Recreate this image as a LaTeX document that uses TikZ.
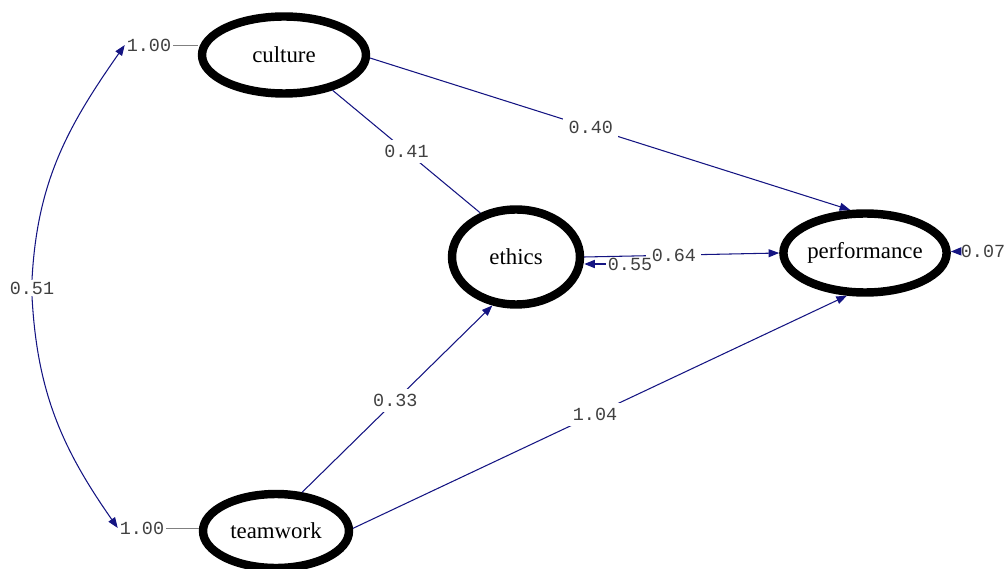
\documentclass[tikz,border=0pt]{standalone}
\usepackage{fontspec}
\setmainfont{Liberation Serif}
\setmonofont{Liberation Mono}
\usetikzlibrary{arrows.meta,shapes}
\definecolor{navy}{RGB}{20,20,130}
\tikzstyle{latent}=[ellipse,draw=black,line width=4.8pt,inner sep=0pt,font=\fontsize{13}{15}\selectfont]
\tikzstyle{coef}=[font=\ttfamily\fontsize{10.5}{12}\selectfont,text=black!75,inner sep=1pt]
\tikzstyle{link}=[draw=navy,line width=0.6pt]

\begin{document}
\begin{tikzpicture}[x=0.02cm,y=0.02cm,>={Triangle[length=6pt,width=4.5pt]}]

   \useasboundingbox (0,0) rectangle (1006,568);

    \foreach \pos/\name/\w/\h in {{(284,513)/culture/3.28/1.54}, {(516,311)/ethics/2.56/1.9}, {(865,315)/performance/2.78/1.58}, {(276,37)/teamwork/2.92/1.48}}
        \node[latent,minimum width=\w cm,minimum height=\h cm] (\name) at \pos {\name};

    \foreach \source/\dest/\weight/\p/\tip in {culture.-36/ethics.129/0.41/0.5/-, culture.-2/performance.109/0.40/0.46/->, teamwork.56/ethics.244/0.33/0.49/->, teamwork.2/performance.247/1.04/0.49/->, ethics.0/performance.180/0.64/0.46/->}
                \draw[link,\tip] (\source) -- node[coef,fill=white,inner sep=3pt,pos=\p]{\weight} (\dest);

% variances of the exogenous variables
\node[coef] (culv) at (149,523) {1.00};
\node[coef] (teamv) at (142,40) {1.00};
\draw[gray] (culv.east) -- (culv.east -| culture.west);
\draw[gray] (teamv.east) -- (teamv.east -| teamwork.west);

% covariance
\node[coef] (r51) at (32,280) {0.51};
\draw[link,->] (r51.north) to[out=87,in=-125] (culv.west);
\draw[link,->] (r51.south) to[out=-87,in=125] (teamv.west);

% error terms
\node[coef] (e55) at (630,304) {0.55};
\draw[link,line width=1pt,->] (e55.west) -- (e55.west -| ethics.east);
\node[coef] (e07) at (983,317) {0.07};
\draw[link,line width=1pt,->] (e07) -- (performance);

\end{tikzpicture}
\end{document}
